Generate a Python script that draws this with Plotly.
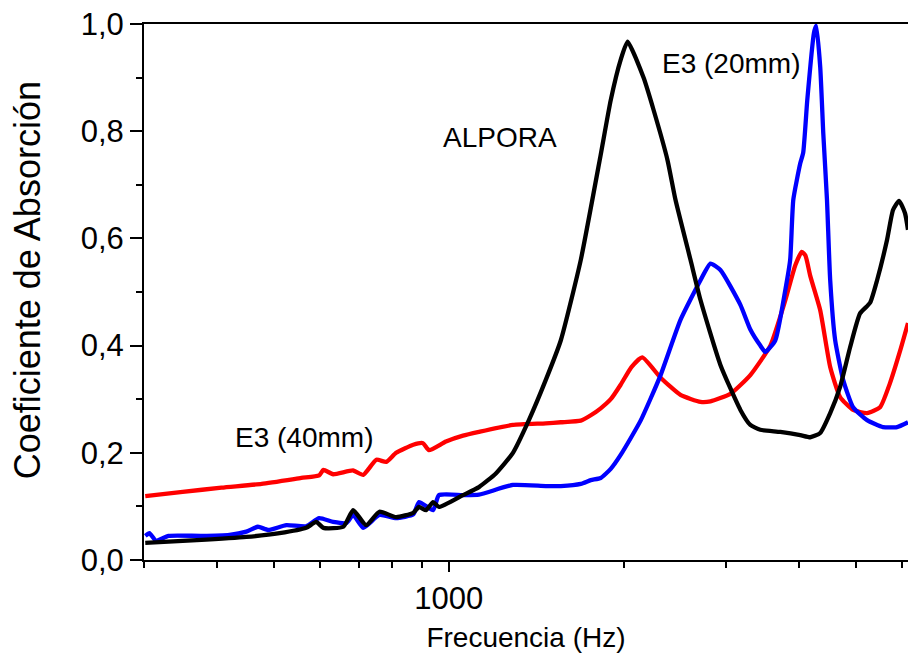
import math
import plotly.graph_objects as go

# E3 (40mm) - red
red_f = [301, 349, 407, 477, 558, 599, 609, 633, 685, 713, 751, 781, 812, 869, 903, 925, 989,
         1058, 1127, 1289, 1468, 1558, 1686, 1754, 1824, 1898, 1974, 2060, 2150, 2312, 2501,
         2707, 2816, 3047, 3297, 3569, 3787, 3939, 4040, 4100, 4179, 4347, 4522, 4703, 4951,
         5233, 5508, 5729, 5962, 6152]
red_v = [0.119, 0.127, 0.135, 0.142, 0.153, 0.158, 0.168, 0.160, 0.167, 0.159, 0.187, 0.183,
         0.200, 0.215, 0.218, 0.205, 0.221, 0.232, 0.239, 0.252, 0.255, 0.257, 0.260, 0.270,
         0.283, 0.300, 0.327, 0.360, 0.378, 0.340, 0.308, 0.295, 0.296, 0.310, 0.345, 0.400,
         0.485, 0.550, 0.575, 0.568, 0.530, 0.466, 0.360, 0.304, 0.280, 0.274, 0.285, 0.330,
         0.390, 0.442]

# E3 (20mm) - blue
blue_f = [301, 306, 314, 330, 376, 420, 449, 470, 490, 526, 569, 599, 633, 667, 685, 713,
          760, 812, 869, 889, 940, 962, 1058, 1127, 1289, 1468, 1558, 1686, 1754, 1824, 1898,
          1974, 2136, 2312, 2501, 2707, 2816, 2929, 3170, 3297, 3430, 3499, 3640, 3787, 3860,
          3908, 4017, 4064, 4130, 4240, 4279, 4347, 4400, 4465, 4522, 4612, 4760, 4951, 5233,
          5573, 5890, 6152]
blue_v = [0.045, 0.050, 0.036, 0.045, 0.045, 0.047, 0.053, 0.062, 0.056, 0.065, 0.063, 0.078,
          0.071, 0.069, 0.084, 0.060, 0.084, 0.078, 0.085, 0.108, 0.093, 0.121, 0.121, 0.122,
          0.140, 0.138, 0.138, 0.142, 0.149, 0.153, 0.170, 0.196, 0.260, 0.345, 0.448, 0.522,
          0.553, 0.541, 0.476, 0.430, 0.400, 0.388, 0.410, 0.504, 0.560, 0.672, 0.740, 0.760,
          0.858, 0.983, 0.997, 0.920, 0.796, 0.672, 0.522, 0.410, 0.336, 0.285, 0.261, 0.248,
          0.248, 0.257]

# ALPORA - black
black_f = [301, 369, 449, 512, 569, 592, 609, 659, 685, 721, 760, 812, 869, 889, 914, 940,
           962, 1058, 1127, 1206, 1289, 1373, 1468, 1558, 1686, 1824, 1898, 1974, 2029, 2161,
           2248, 2376, 2452, 2602, 2707, 2929, 3170, 3297, 3430, 3712, 4017, 4179, 4347, 4522,
           4703, 4893, 5089, 5295, 5444, 5662, 5798, 5938, 6080, 6152]
black_v = [0.032, 0.037, 0.043, 0.050, 0.060, 0.071, 0.060, 0.062, 0.093, 0.065, 0.090, 0.080,
           0.088, 0.099, 0.093, 0.108, 0.099, 0.121, 0.136, 0.162, 0.200, 0.261, 0.336, 0.410,
           0.560, 0.756, 0.858, 0.933, 0.967, 0.900, 0.840, 0.746, 0.672, 0.560, 0.485, 0.364,
           0.280, 0.252, 0.243, 0.239, 0.233, 0.229, 0.237, 0.274, 0.323, 0.397, 0.460, 0.480,
           0.522, 0.597, 0.653, 0.670, 0.647, 0.616]

x_major = [1000]
x_minor = [300, 400, 500, 600, 700, 800, 900, 2000, 3000, 4000, 5000, 6000]
y_ticks = [0.0, 0.2, 0.4, 0.6, 0.8, 1.0]

labels = [("ALPORA", 1224, 0.789), ("E3 (20mm)", 3060, 0.927), ("E3 (40mm)", 563, 0.228)]

FONT = "Liberation Sans, Arial, sans-serif"

fig = go.Figure()
for fx, vy, col in [(red_f, red_v, "#ff0000"), (blue_f, blue_v, "#0000ff"), (black_f, black_v, "#000000")]:
    fig.add_trace(go.Scatter(x=fx, y=vy, mode="lines",
                             line=dict(color=col, width=4.3, shape="spline", smoothing=0.5),
                             showlegend=False, hoverinfo="skip"))

for txt, fx, vy in labels:
    fig.add_annotation(x=math.log10(fx), y=vy, text=txt, showarrow=False,
                       font=dict(family=FONT, size=28, color="#000000"))

# y-axis title placed as a rotated paper annotation
fig.add_annotation(xref="paper", yref="paper", x=-0.153, y=0.522, xanchor="center",
                   yanchor="middle", text="Coeficiente de Absorción", textangle=-90,
                   showarrow=False, font=dict(family=FONT, size=36, color="#000000"))

fig.update_layout(
    width=908, height=653,
    margin=dict(l=144, r=0, t=24, b=93),
    paper_bgcolor="white", plot_bgcolor="white",
    separators=",.",
    font=dict(family=FONT, color="#000000"),
    xaxis=dict(type="log", range=[math.log10(299.5), math.log10(6152)],
               automargin=False,
               tickmode="array", tickvals=x_major, ticktext=["1000"],
               ticks="outside", ticklen=10, tickwidth=2, tickcolor="black",
               showline=True, linewidth=2, linecolor="black", mirror=True,
               showgrid=False, zeroline=False,
               tickfont=dict(size=31),
               minor=dict(tickmode="array", tickvals=x_minor, ticks="outside",
                          ticklen=6, tickwidth=2, tickcolor="black", showgrid=False),
               title=dict(text="Frecuencia (Hz)", font=dict(size=28), standoff=16)),
    yaxis=dict(range=[0, 1], tickmode="array", tickvals=y_ticks, tickformat=".1f",
               automargin=False,
               ticks="outside", ticklen=12, tickwidth=2, tickcolor="black",
               showline=True, linewidth=2, linecolor="black", mirror=False,
               showgrid=False, zeroline=False,
               tickfont=dict(size=31),
               minor=dict(dtick=0.1, tick0=0, ticks="outside", ticklen=6, tickwidth=2,
                          tickcolor="black", showgrid=False)),
)

fig.write_html("out.html", config={"displayModeBar": False},
               post_script="document.body.style.margin='0';document.body.style.overflow='hidden';")
